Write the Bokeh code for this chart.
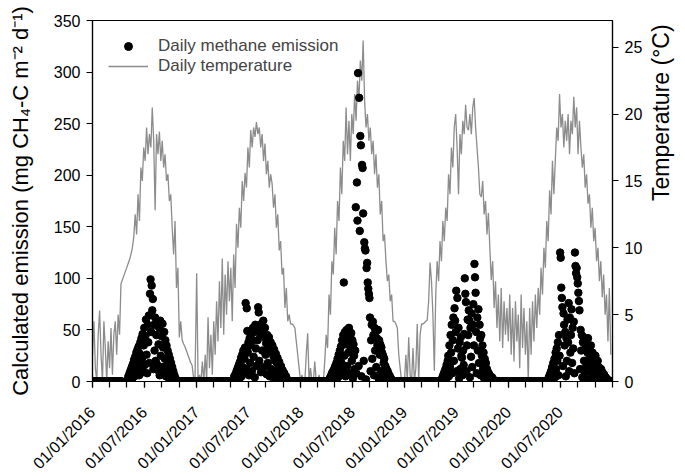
import numpy as np
import pandas as pd
from math import pi
from bokeh.plotting import figure
from bokeh.models import (ColumnDataSource, LinearAxis, Range1d, FixedTicker,
                          CustomJSTickFormatter, Legend, LegendItem)
from bokeh.embed import file_html
from bokeh.resources import INLINE

nan = float("nan")

years = [2016, 2017, 2018, 2019, 2020]
TEMP_STEP_DAYS = 5   # temperature read every 5 days
CH4_STEP_DAYS = 2    # emission read every 2 days

# ---- Daily temperature (°C), one value per 5 days, per year ----
temp_2016 = [2.0, 4.5, 1.0, 0.0, 3.5, 5.3, 2.0, 0.0, 4.5, 2.5,
             0.0, 3.0, 1.0, 4.0, 0.5, 3.5, 4.5, 2.0, 5.0, 3.5,
             7.3, 7.6, 7.9, 8.2, 8.5, 8.8, 9.1, 9.5, 10.0, 10.8,
             12.5, 11.0, 14.0, 12.0, 16.0, 15.0, 17.5, 16.5, 19.0, 17.0,
             18.5, 17.5, 20.5, 18.0, 12.8, 18.5, 17.0, 18.7, 16.5, 18.0,
             16.0, 17.0, 15.0, 15.5, 13.5, 14.0, 11.5, 9.5, 12.0, 7.0,
             8.5, 3.3, 4.5, 3.1, 2.8, 2.6, 2.3, 2.0, 1.7, 1.4,
             1.2, 0.3, 0.0]
temp_2017 = [8.1, 0.0, 0.5, 0.0, 1.5, 0.0, 2.0, 0.0, 4.8, 1.0,
             3.5, 0.5, 4.5, 2.0, 6.0, 3.0, 7.5, 4.0, 9.2, 3.5,
             8.0, 5.0, 9.0, 6.0, 8.5, 4.5, 9.5, 7.0, 11.8, 10.0,
             13.0, 11.5, 15.0, 13.5, 15.6, 14.5, 17.5, 16.0, 18.8, 17.5,
             19.0, 18.3, 19.4, 18.5, 19.0, 17.5, 18.5, 16.5, 17.8, 15.5,
             16.5, 14.5, 15.5, 14.8, 13.0, 14.0, 11.5, 12.5, 9.8, 10.5,
             8.0, 8.5, 5.5, 7.0, 4.5, 5.0, 4.3, 4.3, 4.2, 4.0,
             3.0, 2.0, 1.0]
temp_2018 = [0.0, 0.5, 0.0, 0.0, 2.0, 3.6, 0.0, 1.0, 0.0, 0.0,
             1.5, 0.0, 0.0, 0.5, 0.0, 0.0, 0.0, 1.5, 3.5, 2.5,
             6.5, 5.0, 9.0, 8.0, 11.5, 9.5, 13.5, 12.0, 16.0, 14.0,
             18.0, 16.5, 20.5, 17.0, 19.5, 16.5, 20.0, 18.5, 21.5, 19.5,
             22.5, 21.0, 24.0, 22.5, 25.5, 21.0, 19.0, 20.0, 18.0, 19.0,
             17.0, 18.0, 15.5, 17.0, 14.5, 15.5, 12.5, 13.5, 10.5, 11.0,
             9.0, 7.5, 8.0, 6.0, 6.5, 4.5, 4.5, 4.3, 4.0, 2.0,
             1.0, 0.0, 0.0]
temp_2019 = [0.0, 2.0, 0.0, 3.3, 0.5, 0.0, 2.5, 0.0, 1.0, 4.3,
             0.0, 3.5, 4.3, 4.3, 4.4, 4.5, 4.6, 6.0, 8.9, 7.5,
             5.0, 0.8, 6.5, 9.0, 7.5, 10.5, 9.0, 12.0, 10.5, 13.0,
             12.0, 15.5, 14.0, 17.5, 16.0, 19.0, 20.0, 17.5, 14.0, 18.5,
             17.0, 19.5, 18.5, 20.7, 19.0, 18.8, 20.0, 18.5, 20.5, 21.2,
             19.0, 17.5, 16.0, 14.0, 13.8, 15.0, 12.5, 13.5, 11.0, 12.6,
             10.0, 7.6, 9.0, 5.5, 7.5, 4.0, 6.5, 3.0, 7.0, 2.5,
             6.0, 3.5, 5.5]
temp_2020 = [3.0, 6.5, 2.0, 5.5, 1.5, 6.0, 3.0, 5.0, 1.0, 6.5,
             2.5, 5.5, 2.0, 4.5, 0.0, 5.5, 2.0, 6.0, 3.0, 6.5,
             4.0, 7.0, 5.0, 8.5, 6.5, 10.0, 8.5, 12.0, 10.5, 14.3,
             12.5, 16.5, 14.0, 16.5, 19.0, 18.0, 21.5, 19.0, 20.0, 17.5,
             19.5, 18.0, 20.0, 17.0, 19.5, 18.5, 21.3, 19.0, 20.5, 17.0,
             19.5, 17.5, 16.0, 17.0, 14.5, 15.5, 13.3, 14.0, 11.5, 13.0,
             10.5, 11.5, 9.0, 10.0, 7.5, 9.0, 6.3, 8.0, 5.0, 6.5,
             3.0, 7.0, 2.0]

# ---- Daily methane emission (mg CH4-C m-2 d-1), one value per 2 days ----
ch4_2016 = [0, 0, 0, 0, 0, 0, 0, 0, 0, 0,
            0, 0, 0, 0, 0, 0, 0, 0, 0, 0,
            0, 0, 0, 0, 0, 0, 0, 0, 0, 0,
            0, 0, 0, 0, 0, 0, 0, 0, 0, 0,
            0, 0, 0, 0, 0, 0, 0, 0, 0, 0,
            0, 0, 0, nan, nan, nan, nan, nan, nan, nan,
            nan, nan, 2, 5, 1, 8, 4, 11, 6, 14,
            3, 17, 9, 21, 5, 24, 13, 28, 8, 31,
            18, 34, 6, 27, 38, 12, 42, 22, 46, 9,
            35, 52, 16, 44, 60, 26, 8, 55, 38, 64,
            18, 85, 99, 48, 93, 69, 80, 12, 55, 30,
            62, 20, 45, 17, 58, 11, 36, 52, 6, 59,
            25, 44, 14, 56, 33, 8, 48, 22, 40, 5,
            35, 16, 30, 4, 26, 12, 22, 3, 18, 8,
            14, 2, 10, 5, 6, 1, 3, 0, 0, 0,
            0, 0, 0, 0, 0, 0, 0, 0, 0, 0,
            0, 0, 0, 0, 0, 0, 0, 0, 0, 0,
            0, 0, 0, 0, 0, 0, 0, 0, 0, 0,
            0, 0, 0]
ch4_2017 = [0, 0, 0, 0, 0, 0, 0, 0, 0, 0,
            0, 0, 0, 0, 0, 0, 0, 0, 0, 0,
            0, 0, 0, 0, 0, 0, 0, 0, 0, 0,
            0, 0, 0, 0, 0, 0, 0, 0, 0, 0,
            0, 0, 0, 0, 0, 0, 0, 0, 0, 0,
            0, 0, 0, 0, 0, 0, 0, 0, 0, 0,
            0, 0, 0, 0, 0, 2, 5, 1, 7, 3,
            10, 4, 13, 7, 16, 2, 19, 10, 23, 5,
            26, 14, 30, 8, 22, 33, 76, 12, 71, 49,
            28, 38, 6, 42, 18, 35, 46, 10, 40, 52,
            24, 48, 4, 55, 32, 15, 50, 40, 72, 67,
            20, 52, 44, 9, 56, 30, 48, 59, 14, 43,
            52, 26, 37, 7, 45, 18, 34, 43, 5, 30,
            38, 12, 28, 35, 4, 24, 31, 9, 20, 27,
            3, 18, 23, 8, 14, 19, 2, 12, 15, 5,
            9, 11, 2, 7, 8, 1, 4, 5, 0, 2,
            0, 0, 0, 0, 0, 0, 0, 0, 0, 0,
            0, 0, 0, 0, 0, 0, 0, 0, 0, 0,
            0, 0, 0]
ch4_2018 = [0, 0, 0, 0, 0, 0, 0, 0, 0, 0,
            0, 0, 0, 0, 0, 0, 0, 0, 0, 0,
            0, 0, 0, 0, 0, 0, 0, 0, 0, 0,
            0, 0, 0, 0, 0, 0, 0, 0, 0, 0,
            0, 0, 0, 0, 0, 0, 0, 0, 0, 0,
            1, 3, 0, 5, 2, 8, 1, 10, 4, 12,
            6, 15, 2, 18, 9, 22, 4, 26, 13, 30,
            7, 34, 18, 40, 10, 45, 96, 25, 48, 5,
            36, 50, 15, 42, 28, 52, 8, 44, 33, 47,
            20, 40, 3, 36, 25, 12, 30, 169, 8, 193,
            156, 299, 15, 275, 146, 238, 229, 5, 210, 207,
            163, 20, 135, 129, 127, 2, 110, 115, 96, 90,
            85, 81, 62, 10, 40, 55, 22, 58, 45, 6,
            52, 30, 48, 14, 42, 35, 50, 3, 40, 26,
            36, 10, 33, 28, 5, 25, 18, 22, 2, 15,
            8, 12, 4, 10, 3, 7, 2, 5, 1, 3,
            0, 0, 0, 0, 0, 0, 0, 0, 0, 0,
            0, 0, 0, 0, 0, 0, 0, 0, 0, 0,
            0, 0, 0]
ch4_2019 = [0, 0, 0, 0, 0, 0, 0, 0, 0, 0,
            0, 0, 0, 0, 0, 0, 0, 0, 0, 0,
            0, 0, 0, 0, 0, 0, 0, 0, 0, 0,
            0, 0, 0, 0, 0, 0, 0, 0, 0, 0,
            0, 0, 0, 0, 0, 0, 0, 0, 0, 0,
            0, 0, 0, 0, 0, 0, 0, 0, 0, 0,
            0, 0, 0, 0, 0, 1, 3, 0, 6, 2,
            9, 4, 12, 1, 16, 7, 20, 25, 5, 35,
            14, 45, 28, 55, 8, 40, 62, 20, 71, 59,
            48, 88, 10, 81, 32, 52, 3, 38, 12, 43,
            25, 23, 6, 30, 16, 46, 100, 85, 77, 10,
            35, 60, 45, 69, 59, 4, 52, 24, 66, 14,
            55, 75, 35, 114, 101, 86, 48, 8, 62, 30,
            70, 18, 55, 42, 6, 45, 25, 35, 12, 28,
            3, 22, 15, 18, 6, 12, 2, 9, 5, 7,
            1, 5, 3, 2, 4, 0, 2, 1, 0, 1,
            0, 0, 0, 0, 0, 0, 0, 0, 0, 0,
            0, 0, 0, 0, 0, 0, 0, 0, 0, 0,
            0, 0, 0]
ch4_2020 = [0, 0, 0, 0, 0, 0, 0, 0, 0, 0,
            0, 0, 0, 0, 0, 0, 0, 0, 0, 0,
            0, 0, 0, 0, 0, 0, 0, 0, 0, 0,
            0, 0, 0, 0, 0, 0, 0, 0, 0, 0,
            0, 0, 0, 0, 0, 0, 0, 0, 0, 0,
            0, 0, 0, 0, 0, 0, 0, 0, 0, 0,
            0, 0, 0, 0, 0, 0, 0, 0, 0, 1,
            2, 4, 1, 7, 3, 10, 5, 14, 2, 18,
            9, 22, 4, 28, 12, 32, 20, 38, 6, 45,
            25, 125, 120, 91, 81, 72, 15, 66, 55, 35,
            48, 5, 42, 20, 60, 38, 76, 10, 62, 28,
            45, 70, 18, 52, 32, 58, 8, 125, 112, 105,
            110, 101, 95, 86, 78, 69, 12, 50, 30, 45,
            4, 38, 43, 20, 40, 9, 32, 15, 36, 28,
            42, 2, 22, 30, 12, 35, 18, 6, 28, 10,
            22, 15, 3, 25, 8, 18, 12, 20, 1, 14,
            10, 6, 8, 12, 2, 9, 6, 3, 7, 5,
            2, 4, 3, 1, 2, 1, 0, 1, 0, 0,
            0, 0, 0]

left_ticks = [0, 50, 100, 150, 200, 250, 300, 350]
right_ticks = [0, 5, 10, 15, 20, 25]
major_tick_dates = ["2016-01-01", "2016-07-01", "2017-01-01", "2017-07-01",
                    "2018-01-01", "2018-07-01", "2019-01-01", "2019-07-01",
                    "2020-01-01", "2020-07-01"]
minor_tick_months = [1, 3, 5, 7, 9, 11]
x_start, x_end = "2016-01-01", "2021-01-01"
y_left_max = 350
y_right_max = 27.0
left_title = "Calculated emission (mg CH\u2084-C m\u207b\u00b2 d\u207b\u00b9)"
right_title = "Temperature (\u00b0C)"

temp_by_year = [temp_2016, temp_2017, temp_2018, temp_2019, temp_2020]
ch4_by_year = [ch4_2016, ch4_2017, ch4_2018, ch4_2019, ch4_2020]


def dated(year, vals, step):
    start = pd.Timestamp(f"{year}-01-01")
    d = start + pd.to_timedelta(np.arange(len(vals)) * step, unit="D")
    return list(d), list(np.asarray(vals, dtype=float))


t_dates, t_vals, c_dates, c_vals = [], [], [], []
for yr, tv, cv in zip(years, temp_by_year, ch4_by_year):
    d, v = dated(yr, tv, TEMP_STEP_DAYS)
    t_dates += d
    t_vals += v
    d, v = dated(yr, cv, CH4_STEP_DAYS)
    c_dates += d
    c_vals += v

temp_src = ColumnDataSource(data=dict(date=t_dates, temp=t_vals))
ch4_src = ColumnDataSource(data=dict(date=c_dates, ch4=c_vals))


def ms(s):
    return pd.Timestamp(s).value / 1e6


FONT = "Liberation Sans"
FRAME_W, FRAME_H = 520, 361

p = figure(frame_width=FRAME_W, frame_height=FRAME_H, x_axis_type="datetime",
           x_range=Range1d(pd.Timestamp(x_start), pd.Timestamp(x_end)),
           y_range=Range1d(0, y_left_max),
           output_backend="svg", toolbar_location=None,
           min_border_left=92, min_border_right=72,
           min_border_top=20, min_border_bottom=94)
p.extra_y_ranges = {"temp": Range1d(0, y_right_max)}

ln = p.line(x="date", y="temp", source=temp_src, y_range_name="temp",
            line_color="#8c8c8c", line_width=1.3)
sc = p.scatter(x="date", y="ch4", source=ch4_src, size=7.5,
               fill_color="black", line_color="black")

p.xgrid.visible = False
p.ygrid.visible = False
p.outline_line_color = "black"
p.outline_line_width = 1.2
p.background_fill_color = "white"
p.border_fill_color = "white"

# bottom axis
xa = p.xaxis[0]
xa.ticker = FixedTicker(ticks=[ms(d) for d in major_tick_dates],
                        minor_ticks=[ms(f"{y}-{m:02d}-01") for y in years
                                     for m in minor_tick_months] + [ms(x_end)])
xa.formatter = CustomJSTickFormatter(code="""
const d = new Date(tick);
const dd = String(d.getUTCDate()).padStart(2, "0");
const mm = String(d.getUTCMonth() + 1).padStart(2, "0");
return dd + "/" + mm + "/" + d.getUTCFullYear();
""")
xa.major_label_orientation = pi / 4

# left axis
ya = p.yaxis[0]
ya.ticker = FixedTicker(ticks=left_ticks)
ya.axis_label = left_title

# right axis
ra = LinearAxis(y_range_name="temp", ticker=FixedTicker(ticks=right_ticks),
                axis_label=right_title)
p.add_layout(ra, "right")

for ax in (xa, ya, ra):
    ax.axis_line_color = "black"
    ax.axis_line_width = 1.2
    ax.major_tick_line_color = "black"
    ax.major_tick_line_width = 1.2
    ax.major_tick_in = 0
    ax.major_tick_out = 6
    ax.minor_tick_in = 0
    ax.minor_tick_out = 6
    ax.minor_tick_line_color = "black"
    ax.minor_tick_line_width = 1.2
    ax.major_label_text_font = FONT
    ax.major_label_text_font_size = "16px"
    ax.major_label_text_color = "black"
    ax.axis_label_text_font = FONT
    ax.axis_label_text_font_size = "22px"
    ax.axis_label_text_font_style = "normal"
    ax.axis_label_text_color = "black"
    ax.major_label_standoff = 6
ya.minor_tick_line_color = None
ra.minor_tick_line_color = None
ya.axis_label_standoff = 18
ra.axis_label_standoff = 16
ra.axis_label_text_font_size = "23px"
ra.axis_label_orientation = pi / 2
xa.major_label_standoff = 22

legend = Legend(items=[LegendItem(label="Daily methane emission", renderers=[sc]),
                       LegendItem(label="Daily temperature", renderers=[ln])],
                location="top_left", border_line_color=None,
                background_fill_alpha=0, label_text_font=FONT,
                label_text_font_size="17px", glyph_width=40, glyph_height=20,
                label_height=20, label_standoff=10, spacing=0, padding=0,
                margin=16)
p.add_layout(legend)

open("out.html", "w").write(file_html(p, INLINE))
